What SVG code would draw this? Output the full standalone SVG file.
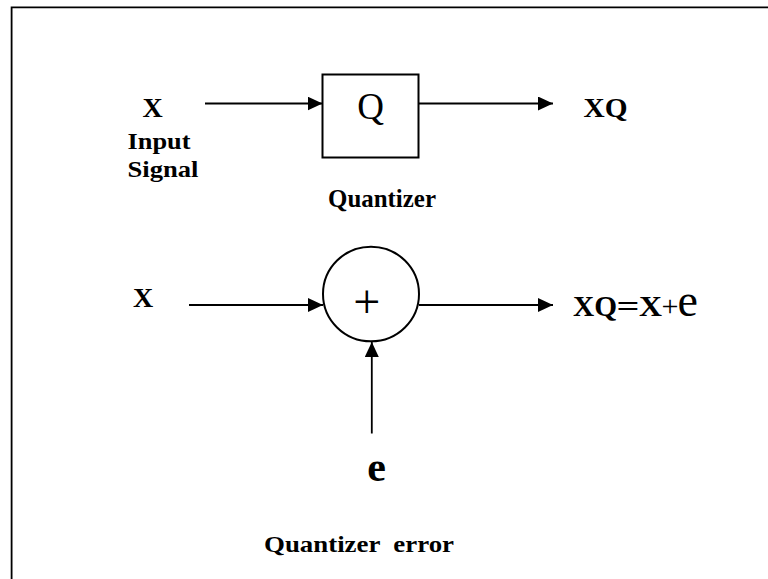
<svg xmlns="http://www.w3.org/2000/svg" width="768" height="579" viewBox="0 0 768 579">
<defs>
<style>
.ln{stroke:#000;stroke-width:1.8;fill:none}
.b{font-family:"Liberation Serif","Times New Roman",Times,serif;font-weight:bold;fill:#000}
.r{font-family:"Liberation Serif","Times New Roman",Times,serif;font-weight:normal;fill:#000}
</style>
<marker id="ah" markerWidth="15" markerHeight="14" refX="15" refY="7" orient="auto" markerUnits="userSpaceOnUse">
<path d="M0,0 L15,7 L0,14 Z" fill="#000"/>
</marker>
</defs>
<rect width="768" height="579" fill="#fff"/>
<path d="M11.6,600 V7.4 H800" fill="none" stroke="#000" stroke-width="1.8"/>
<g id="connectors">
<line class="ln" x1="205" y1="103.5" x2="322.5" y2="103.5" marker-end="url(#ah)"/>
<line class="ln" x1="418.5" y1="103.5" x2="553" y2="103.5" marker-end="url(#ah)"/>
<line class="ln" x1="189" y1="305" x2="323" y2="305" marker-end="url(#ah)"/>
<line class="ln" x1="419" y1="305" x2="553" y2="305" marker-end="url(#ah)"/>
<line class="ln" x1="371.8" y1="433.5" x2="371.8" y2="342" marker-end="url(#ah)"/>
</g>
<g id="input-x">
<text class="b" x="152.7" y="116.7" font-size="28" text-anchor="middle">X</text>
<text class="b" x="127.5" y="148.5" font-size="24" textLength="63" lengthAdjust="spacingAndGlyphs">Input</text>
<text class="b" x="127.5" y="176.7" font-size="24" textLength="71" lengthAdjust="spacingAndGlyphs">Signal</text>
</g>
<g id="quantizer">
<rect x="322.5" y="74.5" width="96" height="83" fill="none" stroke="#000" stroke-width="2"/>
<text class="r" x="370.5" y="119" font-size="37" text-anchor="middle">Q</text>
<text class="b" x="328" y="207" font-size="25" textLength="108" lengthAdjust="spacingAndGlyphs">Quantizer</text>
</g>
<g id="output-xq">
<text class="b" x="583.5" y="117" font-size="28" textLength="44" lengthAdjust="spacingAndGlyphs">XQ</text>
</g>
<g id="input-x2">
<text class="b" x="143" y="307" font-size="28" text-anchor="middle">X</text>
</g>
<g id="adder">
<ellipse cx="371" cy="294" rx="48" ry="47.3" fill="none" stroke="#000" stroke-width="2"/>
<text class="r" x="366.7" y="317.5" font-size="48" text-anchor="middle">+</text>
</g>
<g id="output-sum">
<text class="b" x="573" y="316" font-size="29" textLength="44" lengthAdjust="spacingAndGlyphs">XQ</text>
<text class="b" x="616.5" y="316" font-size="30" textLength="23" lengthAdjust="spacingAndGlyphs">=</text>
<text class="b" x="639" y="316" font-size="29" textLength="23" lengthAdjust="spacingAndGlyphs">X</text>
<text class="r" x="661.5" y="316" font-size="30" textLength="17" lengthAdjust="spacingAndGlyphs">+</text>
<text class="r" x="677.5" y="316" font-size="46">e</text>
</g>
<g id="error">
<text class="b" x="376.5" y="481" font-size="42" text-anchor="middle">e</text>
<text class="b" x="264" y="552" font-size="24" textLength="190" lengthAdjust="spacingAndGlyphs" xml:space="preserve">Quantizer  error</text>
</g>
</svg>
